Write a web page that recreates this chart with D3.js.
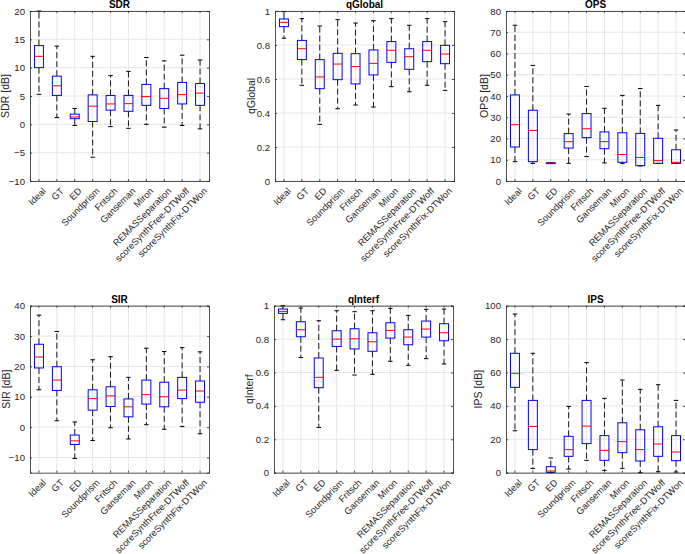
<!DOCTYPE html>
<html>
<head>
<meta charset="utf-8">
<script src="https://cdn.jsdelivr.net/npm/d3@7"></script>
<style>
  html, body { margin: 0; padding: 0; background: #ffffff; }
  svg { display: block; font-family: "Liberation Sans", Arial, Helvetica, sans-serif; }
</style>
</head>
<body>
<svg id="chart" width="685" height="554"></svg>
<script>
// ---- data: categories ----
const methods = ["Ideal", "GT", "ED", "Soundprism", "Fritsch", "Ganseman", "Miron",
  "REMASSeparation", "scoreSynthFree-DTWoff", "scoreSynthFix-DTWon"];

// ---- data: [lower whisker, q1, median, q3, upper whisker] per method ----
const sdrStats = [
  [5.3, 10.0, 12.0, 13.9, 20.0], [1.2, 5.1, 6.8, 8.5, 13.8], [-0.2, 1.0, 1.3, 1.8, 2.8],
  [-5.8, 0.5, 3.2, 5.2, 12.0], [-0.4, 2.5, 3.6, 5.1, 8.6], [-0.7, 2.3, 3.65, 5.1, 9.35],
  [0.0, 3.35, 4.9, 7.05, 11.8], [-0.5, 2.8, 4.6, 6.3, 11.2], [-0.2, 3.6, 5.25, 7.4, 12.2],
  [-0.8, 3.35, 5.5, 7.2, 11.35]];
const qGlobalStats = [
  [0.84, 0.908, 0.933, 0.953, 0.996], [0.563, 0.714, 0.778, 0.827, 0.955], [0.333, 0.543, 0.612, 0.714, 0.912],
  [0.425, 0.596, 0.688, 0.751, 0.949], [0.447, 0.571, 0.673, 0.749, 0.929], [0.435, 0.624, 0.692, 0.771, 0.943],
  [0.555, 0.698, 0.769, 0.82, 0.955], [0.525, 0.657, 0.731, 0.778, 0.916], [0.563, 0.702, 0.769, 0.82, 0.955],
  [0.533, 0.69, 0.747, 0.798, 0.937]];
const opsStats = [
  [9.1, 16.0, 26.5, 40.5, 73.3], [8.3, 9.1, 23.8, 33.3, 54.4], [8.2, 8.2, 8.5, 8.6, 8.6],
  [8.3, 15.5, 18.5, 22.3, 31.5], [11.5, 20.4, 24.6, 31.7, 44.5], [8.5, 15.2, 18.5, 23.1, 34.2],
  [8.3, 8.8, 12.5, 22.7, 40.3], [7.1, 7.2, 11.1, 22.4, 43.5], [8.3, 8.3, 9.6, 20.1, 35.6],
  [8.3, 8.3, 8.8, 14.7, 24.0]];
const sirStats = [
  [12.3, 19.5, 23.1, 27.3, 36.9], [2.1, 12.1, 15.5, 19.9, 31.5], [-10.3, -5.7, -4.5, -2.6, 1.7],
  [-4.4, 5.6, 9.4, 12.3, 22.2], [-0.2, 6.8, 10.3, 13.3, 23.2], [-3.9, 3.4, 6.7, 9.3, 16.4],
  [0.8, 7.6, 10.7, 15.5, 26.0], [-0.7, 6.7, 10.0, 14.8, 24.9], [0.2, 9.4, 12.2, 16.4, 26.2],
  [-2.2, 8.2, 11.9, 15.2, 24.8]];
const qInterfStats = [
  [0.916, 0.954, 0.966, 0.98, 1.0], [0.689, 0.814, 0.856, 0.904, 0.986], [0.271, 0.509, 0.571, 0.687, 0.91],
  [0.613, 0.756, 0.8, 0.85, 0.97], [0.585, 0.741, 0.802, 0.862, 0.964], [0.589, 0.727, 0.784, 0.838, 0.97],
  [0.667, 0.806, 0.852, 0.898, 0.984], [0.643, 0.766, 0.812, 0.856, 0.942], [0.683, 0.812, 0.86, 0.908, 0.978],
  [0.651, 0.79, 0.838, 0.892, 0.98]];
const ipsStats = [
  [25.1, 51.1, 59.5, 71.5, 95.0], [2.6, 13.8, 27.7, 43.3, 71.5], [0.0, 0.2, 1.0, 3.6, 8.8],
  [2.2, 9.8, 13.8, 21.8, 39.7], [7.4, 17.4, 27.9, 43.3, 65.9], [1.4, 7.4, 13.4, 22.2, 44.5],
  [2.6, 12.0, 18.6, 29.9, 55.5], [0.0, 7.0, 13.8, 25.7, 49.9], [0.6, 9.8, 17.2, 27.5, 52.7],
  [0.4, 7.2, 12.4, 22.2, 43.3]];

// ---- tick values ----
const sdrTicks = [-10, -5, 0, 5, 10, 15, 20];
const qTicks = [0, 0.2, 0.4, 0.6, 0.8, 1];
const opsTicks = [0, 10, 20, 30, 40, 50, 60, 70, 80];
const sirTicks = [-10, 0, 10, 20, 30, 40];
const ipsTicks = [0, 20, 40, 60, 80, 100];

// ---- panels (layout) ----
const panels = [
  { title: "SDR", ylabel: "SDR [dB]", stats: sdrStats, domain: [-10, 20], ticks: sdrTicks, x: 30, y: 11, h: 170, lab: 20 },
  { title: "qGlobal", ylabel: "qGlobal", stats: qGlobalStats, domain: [0, 1], ticks: qTicks, x: 275, y: 11, h: 170, lab: 19 },
  { title: "OPS", ylabel: "OPS [dB]", stats: opsStats, domain: [0, 80], ticks: opsTicks, x: 506, y: 11, h: 170, lab: 17 },
  { title: "SIR", ylabel: "SIR [dB]", stats: sirStats, domain: [-15, 40], ticks: sirTicks, x: 30, y: 305.7, h: 167, lab: 19 },
  { title: "qInterf", ylabel: "qInterf", stats: qInterfStats, domain: [0, 1], ticks: qTicks, x: 274, y: 305.7, h: 167, lab: 20 },
  { title: "IPS", ylabel: "IPS [dB]", stats: ipsStats, domain: [0, 100], ticks: ipsTicks, x: 506, y: 305.7, h: 167, lab: 23 }
];
const W = 179;
const axisColor = "#262626";
const gridColor = "#e6e6e6";

const svg = d3.select("#chart");

panels.forEach(p => {
  const g = svg.append("g").attr("transform", `translate(${p.x},${p.y})`);
  const x = d3.scaleBand().domain(methods).range([0, W]).paddingInner(0).paddingOuter(0);
  const y = d3.scaleLinear().domain(p.domain).range([p.h, 0]);
  const bw = x.bandwidth();
  const cx = d => x(d) + bw / 2;
  const boxW = bw * 0.5;
  const capW = boxW * 0.5;

  // grid
  g.append("g").selectAll("line.gy").data(p.ticks).join("line")
    .attr("x1", 0).attr("x2", W).attr("y1", d => y(d)).attr("y2", d => y(d))
    .attr("stroke", gridColor).attr("stroke-width", 1);
  g.append("g").selectAll("line.gx").data(methods).join("line")
    .attr("x1", d => cx(d)).attr("x2", d => cx(d)).attr("y1", 0).attr("y2", p.h)
    .attr("stroke", gridColor).attr("stroke-width", 1);

  // boxes
  const rows = methods.map((m, i) => ({ m, s: p.stats[i] }));
  const bx = g.append("g").selectAll("g").data(rows).join("g");
  // whiskers
  bx.append("line").attr("x1", d => cx(d.m)).attr("x2", d => cx(d.m))
    .attr("y1", d => y(d.s[3])).attr("y2", d => y(d.s[4]))
    .attr("stroke", "#000").attr("stroke-width", 0.9).attr("stroke-dasharray", "6,3");
  bx.append("line").attr("x1", d => cx(d.m)).attr("x2", d => cx(d.m))
    .attr("y1", d => y(d.s[1])).attr("y2", d => y(d.s[0]))
    .attr("stroke", "#000").attr("stroke-width", 0.9).attr("stroke-dasharray", "6,3");
  // caps
  bx.append("line").attr("x1", d => cx(d.m) - capW / 2).attr("x2", d => cx(d.m) + capW / 2)
    .attr("y1", d => y(d.s[4])).attr("y2", d => y(d.s[4]))
    .attr("stroke", "#000").attr("stroke-width", 1);
  bx.append("line").attr("x1", d => cx(d.m) - capW / 2).attr("x2", d => cx(d.m) + capW / 2)
    .attr("y1", d => y(d.s[0])).attr("y2", d => y(d.s[0]))
    .attr("stroke", "#000").attr("stroke-width", 1);
  // box
  bx.append("rect").attr("x", d => cx(d.m) - boxW / 2).attr("width", boxW)
    .attr("y", d => y(d.s[3])).attr("height", d => Math.max(0.5, y(d.s[1]) - y(d.s[3])))
    .attr("fill", "none").attr("stroke", "#0000ff").attr("stroke-width", 1);
  // median
  bx.append("line").attr("x1", d => cx(d.m) - boxW / 2).attr("x2", d => cx(d.m) + boxW / 2)
    .attr("y1", d => y(d.s[2])).attr("y2", d => y(d.s[2]))
    .attr("stroke", "#ff0000").attr("stroke-width", 1);

  // axes (ticks inward)
  const fmt = d => (Math.abs(d) < 1e-9 ? "0" : d3.format("~g")(d));
  const ya = g.append("g").call(d3.axisLeft(y).tickValues(p.ticks).tickSize(-2).tickPadding(5).tickFormat(fmt));
  const yr = g.append("g").attr("transform", `translate(${W},0)`)
    .call(d3.axisRight(y).tickValues(p.ticks).tickSize(-2).tickFormat(""));
  const xa = g.append("g").attr("transform", `translate(0,${p.h})`)
    .call(d3.axisBottom(x).tickSize(-2).tickFormat(""));
  const xt = g.append("g").call(d3.axisTop(x).tickSize(-2).tickFormat(""));
  [ya, yr, xa, xt].forEach(a => {
    a.select(".domain").attr("stroke", axisColor).attr("stroke-width", 0.8);
    a.selectAll(".tick line").attr("stroke", axisColor).attr("stroke-width", 0.8);
  });
  ya.selectAll("text").attr("fill", axisColor).style("font-size", "9.6px")
    .style("font-family", "'Liberation Sans', Arial, sans-serif");

  // rotated category labels
  g.append("g").selectAll("text").data(methods).join("text")
    .attr("transform", d => `translate(${cx(d) + 3},${p.h + 6}) rotate(-45)`)
    .attr("text-anchor", "end").attr("dy", "0.7em")
    .attr("fill", axisColor).style("font-size", "9.3px")
    .text(d => d);

  // title
  g.append("text").attr("x", W / 2).attr("y", -3).attr("text-anchor", "middle")
    .style("font-size", "10px").style("font-weight", "bold").attr("fill", "#000")
    .text(p.title);

  // y label
  g.append("text").attr("transform", `translate(${-p.lab - 1},${p.h / 2}) rotate(-90)`)
    .attr("text-anchor", "middle").attr("fill", axisColor).style("font-size", "10.5px")
    .text(p.ylabel);
});
</script>
</body>
</html>
